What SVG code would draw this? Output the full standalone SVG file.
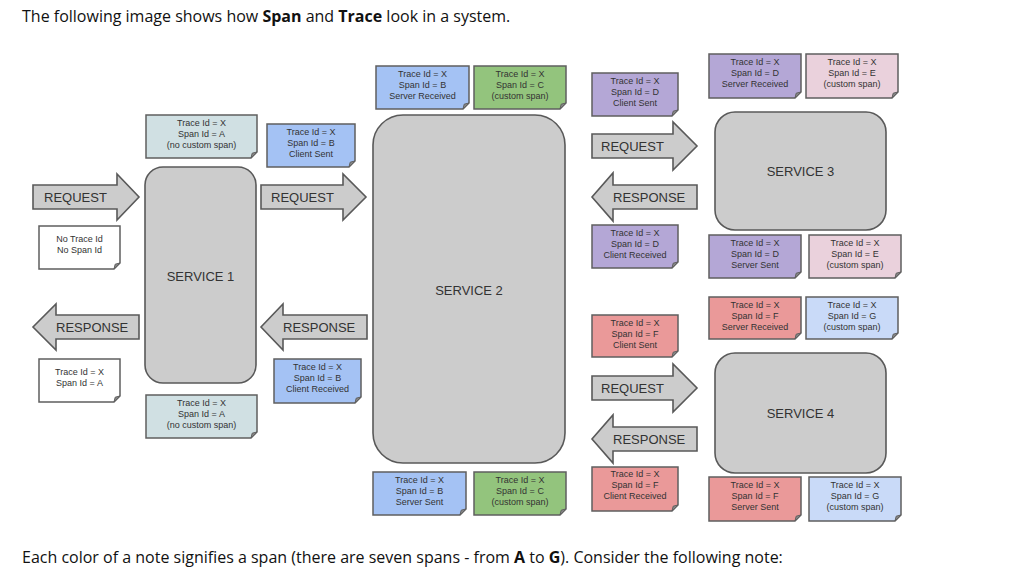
<svg xmlns="http://www.w3.org/2000/svg" width="1010" height="578" viewBox="0 0 1010 578">
<style>
.bg{fill:#ffffff}
.cap{font-family:"Open Sans","Liberation Sans",sans-serif;font-size:16px;fill:#111}
.note{stroke:#5f5f5f;stroke-width:1.5}
.fold{fill:#888;stroke:#5f5f5f;stroke-width:1}
.nt{font-family:"Liberation Sans",Arial,sans-serif;font-size:9px;fill:#333;text-anchor:middle}
.svc{fill:#cccccc;stroke:#595959;stroke-width:1.6}
.st{font-family:"Liberation Sans",Arial,sans-serif;font-size:13px;fill:#333;text-anchor:middle}
.arr{fill:#cccccc;stroke:#595959;stroke-width:1.6;stroke-linejoin:miter}
.at{font-family:"Liberation Sans",Arial,sans-serif;font-size:13px;fill:#333}
.cA{fill:#d0e0e3}.cB{fill:#a4c2f4}.cC{fill:#93c47d}.cD{fill:#b4a7d6}.cE{fill:#ead1dc}.cF{fill:#ea9999}.cG{fill:#c9daf8}.cW{fill:#ffffff}
</style>
<rect class="bg" x="0" y="0" width="1010" height="578"/>
<text class="cap" x="22" y="22">The following image shows how <tspan font-weight="bold">Span</tspan> and <tspan font-weight="bold">Trace</tspan> look in a system.</text>
<text class="cap" x="22" y="563">Each color of a note signifies a span (there are seven spans - from <tspan font-weight="bold">A</tspan> to <tspan font-weight="bold">G</tspan>). Consider the following note:</text>

<g id="service1"><rect class="svc" x="145" y="167" width="111" height="216" rx="18"/><text class="st" x="200.5" y="281">SERVICE 1</text></g>
<g id="service2"><rect class="svc" x="373" y="115" width="192" height="348" rx="30"/><text class="st" x="469" y="295">SERVICE 2</text></g>
<g id="service3"><rect class="svc" x="715" y="112" width="171" height="118" rx="20"/><text class="st" x="800.5" y="176">SERVICE 3</text></g>
<g id="service4"><rect class="svc" x="715" y="353" width="171" height="120" rx="20"/><text class="st" x="800.5" y="418">SERVICE 4</text></g>

<g id="connectors">
<g id="req1"><polygon class="arr" points="33,185 117,185 117,174 139,197 117,220 117,209 33,209"/><text class="at" x="44" y="202">REQUEST</text></g>
<g id="req2"><polygon class="arr" points="261,185 343,185 343,174 366,197 343,220 343,209 261,209"/><text class="at" x="271" y="202">REQUEST</text></g>
<g id="resp1"><polygon class="arr" points="139,315 56,315 56,304 33,327 56,350 56,339 139,339"/><text class="at" x="56" y="332">RESPONSE</text></g>
<g id="resp2"><polygon class="arr" points="367,315 283,315 283,304 261,327 283,350 283,339 367,339"/><text class="at" x="283" y="332">RESPONSE</text></g>
<g id="req3"><polygon class="arr" points="592,134 673,134 673,122 697,146 673,170 673,158 592,158"/><text class="at" x="601" y="151">REQUEST</text></g>
<g id="resp3"><polygon class="arr" points="697,185 613,185 613,173 592,197 613,221 613,209 697,209"/><text class="at" x="613" y="202">RESPONSE</text></g>
<g id="req4"><polygon class="arr" points="592,376 673,376 673,364 697,388 673,412 673,400 592,400"/><text class="at" x="601" y="393">REQUEST</text></g>
<g id="resp4"><polygon class="arr" points="697,427 613,427 613,415 592,439 613,463 613,451 697,451"/><text class="at" x="613" y="444">RESPONSE</text></g>
</g>

<g id="noteA1"><path class="note cA" d="M146 115H257V152L251 158H146Z"/><path class="fold" d="M257 152L251 158L252.2 153.2Z"/><text class="nt" x="201.5" y="126">Trace Id = X</text><text class="nt" x="201.5" y="137">Span Id = A</text><text class="nt" x="201.5" y="148">(no custom span)</text></g>
<g id="noteB1"><path class="note cB" d="M267 124H355V161L349 167H267Z"/><path class="fold" d="M355 161L349 167L350.2 162.2Z"/><text class="nt" x="311" y="135">Trace Id = X</text><text class="nt" x="311" y="146">Span Id = B</text><text class="nt" x="311" y="157">Client Sent</text></g>
<g id="note0"><path class="note cW" d="M39 226H120V263L114 269H39Z"/><path class="fold" d="M120 263L114 269L115.2 264.2Z"/><text class="nt" x="79.5" y="242">No Trace Id</text><text class="nt" x="79.5" y="253">No Span Id</text></g>
<g id="noteW"><path class="note cW" d="M39 359H120V396L114 402H39Z"/><path class="fold" d="M120 396L114 402L115.2 397.2Z"/><text class="nt" x="79.5" y="375">Trace Id = X</text><text class="nt" x="79.5" y="386">Span Id = A</text></g>
<g id="noteB2"><path class="note cB" d="M274 359H361V397L355 403H274Z"/><path class="fold" d="M361 397L355 403L356.2 398.2Z"/><text class="nt" x="317.5" y="370">Trace Id = X</text><text class="nt" x="317.5" y="381">Span Id = B</text><text class="nt" x="317.5" y="392">Client Received</text></g>
<g id="noteA2"><path class="note cA" d="M146 395H257V432L251 438H146Z"/><path class="fold" d="M257 432L251 438L252.2 433.2Z"/><text class="nt" x="201.5" y="406">Trace Id = X</text><text class="nt" x="201.5" y="417">Span Id = A</text><text class="nt" x="201.5" y="428">(no custom span)</text></g>
<g id="noteB3"><path class="note cB" d="M376 66H469V103L463 109H376Z"/><path class="fold" d="M469 103L463 109L464.2 104.2Z"/><text class="nt" x="422.5" y="77">Trace Id = X</text><text class="nt" x="422.5" y="88">Span Id = B</text><text class="nt" x="422.5" y="99">Server Received</text></g>
<g id="noteC1"><path class="note cC" d="M474 66H566V103L560 109H474Z"/><path class="fold" d="M566 103L560 109L561.2 104.2Z"/><text class="nt" x="520" y="77">Trace Id = X</text><text class="nt" x="520" y="88">Span Id = C</text><text class="nt" x="520" y="99">(custom span)</text></g>
<g id="noteD1"><path class="note cD" d="M592 73H678V110L672 116H592Z"/><path class="fold" d="M678 110L672 116L673.2 111.2Z"/><text class="nt" x="635" y="84">Trace Id = X</text><text class="nt" x="635" y="95">Span Id = D</text><text class="nt" x="635" y="106">Client Sent</text></g>
<g id="noteD2"><path class="note cD" d="M709 54H801V92L795 98H709Z"/><path class="fold" d="M801 92L795 98L796.2 93.2Z"/><text class="nt" x="755" y="65">Trace Id = X</text><text class="nt" x="755" y="76">Span Id = D</text><text class="nt" x="755" y="87">Server Received</text></g>
<g id="noteE1"><path class="note cE" d="M806 54H898V92L892 98H806Z"/><path class="fold" d="M898 92L892 98L893.2 93.2Z"/><text class="nt" x="852" y="65">Trace Id = X</text><text class="nt" x="852" y="76">Span Id = E</text><text class="nt" x="852" y="87">(custom span)</text></g>
<g id="noteD3"><path class="note cD" d="M592 225H678V262L672 268H592Z"/><path class="fold" d="M678 262L672 268L673.2 263.2Z"/><text class="nt" x="635" y="236">Trace Id = X</text><text class="nt" x="635" y="247">Span Id = D</text><text class="nt" x="635" y="258">Client Received</text></g>
<g id="noteD4"><path class="note cD" d="M709 235H801V272L795 278H709Z"/><path class="fold" d="M801 272L795 278L796.2 273.2Z"/><text class="nt" x="755" y="246">Trace Id = X</text><text class="nt" x="755" y="257">Span Id = D</text><text class="nt" x="755" y="268">Server Sent</text></g>
<g id="noteE2"><path class="note cE" d="M809 235H901V272L895 278H809Z"/><path class="fold" d="M901 272L895 278L896.2 273.2Z"/><text class="nt" x="855" y="246">Trace Id = X</text><text class="nt" x="855" y="257">Span Id = E</text><text class="nt" x="855" y="268">(custom span)</text></g>
<g id="noteF1"><path class="note cF" d="M709 297H801V333L795 339H709Z"/><path class="fold" d="M801 333L795 339L796.2 334.2Z"/><text class="nt" x="755" y="308">Trace Id = X</text><text class="nt" x="755" y="319">Span Id = F</text><text class="nt" x="755" y="330">Server Received</text></g>
<g id="noteG1"><path class="note cG" d="M806 297H898V333L892 339H806Z"/><path class="fold" d="M898 333L892 339L893.2 334.2Z"/><text class="nt" x="852" y="308">Trace Id = X</text><text class="nt" x="852" y="319">Span Id = G</text><text class="nt" x="852" y="330">(custom span)</text></g>
<g id="noteF2"><path class="note cF" d="M592 315H678V351L672 357H592Z"/><path class="fold" d="M678 351L672 357L673.2 352.2Z"/><text class="nt" x="635" y="326">Trace Id = X</text><text class="nt" x="635" y="337">Span Id = F</text><text class="nt" x="635" y="348">Client Sent</text></g>
<g id="noteF3"><path class="note cF" d="M592 467H678V505L672 511H592Z"/><path class="fold" d="M678 505L672 511L673.2 506.2Z"/><text class="nt" x="635" y="477">Trace Id = X</text><text class="nt" x="635" y="488">Span Id = F</text><text class="nt" x="635" y="499">Client Received</text></g>
<g id="noteF4"><path class="note cF" d="M709 477H801V515L795 521H709Z"/><path class="fold" d="M801 515L795 521L796.2 516.2Z"/><text class="nt" x="755" y="488">Trace Id = X</text><text class="nt" x="755" y="499">Span Id = F</text><text class="nt" x="755" y="510">Server Sent</text></g>
<g id="noteG2"><path class="note cG" d="M809 477H901V515L895 521H809Z"/><path class="fold" d="M901 515L895 521L896.2 516.2Z"/><text class="nt" x="855" y="488">Trace Id = X</text><text class="nt" x="855" y="499">Span Id = G</text><text class="nt" x="855" y="510">(custom span)</text></g>
<g id="noteB4"><path class="note cB" d="M373 472H466V509L460 515H373Z"/><path class="fold" d="M466 509L460 515L461.2 510.2Z"/><text class="nt" x="419.5" y="483">Trace Id = X</text><text class="nt" x="419.5" y="494">Span Id = B</text><text class="nt" x="419.5" y="505">Server Sent</text></g>
<g id="noteC2"><path class="note cC" d="M474 472H566V509L560 515H474Z"/><path class="fold" d="M566 509L560 515L561.2 510.2Z"/><text class="nt" x="520" y="483">Trace Id = X</text><text class="nt" x="520" y="494">Span Id = C</text><text class="nt" x="520" y="505">(custom span)</text></g>
</svg>
